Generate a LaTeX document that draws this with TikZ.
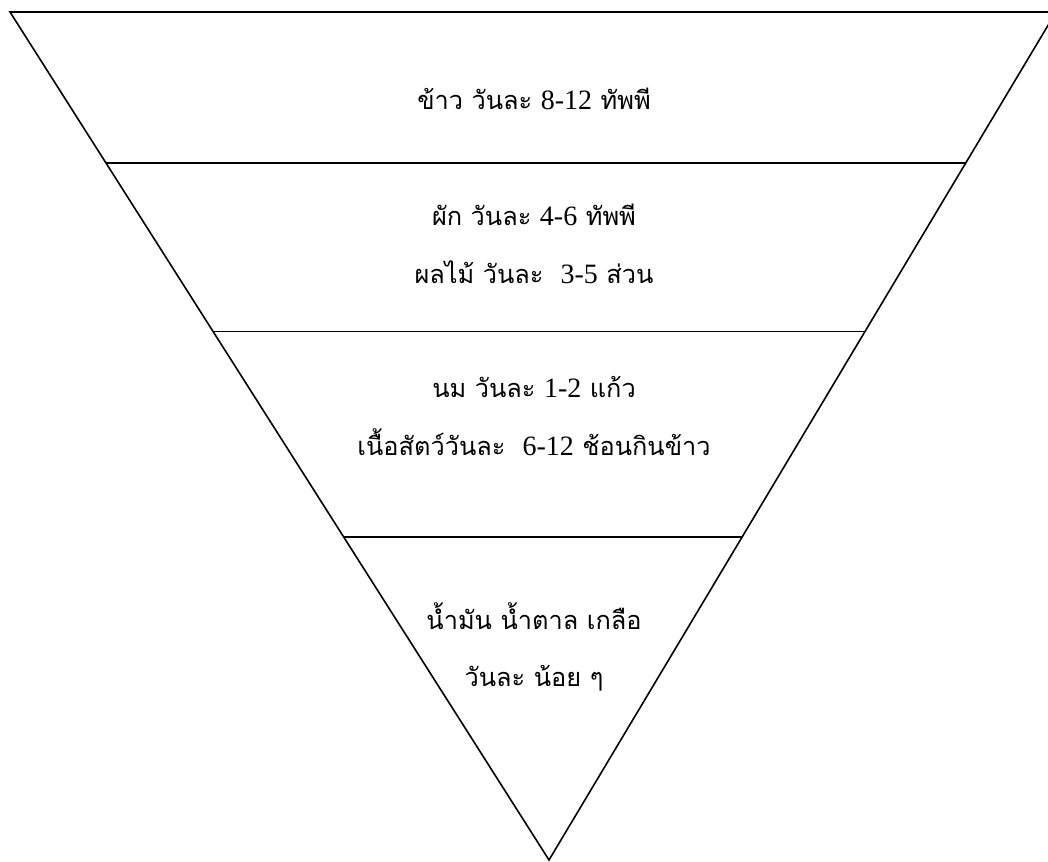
\documentclass[tikz,border=0pt]{standalone}
\usepackage{fontspec}
\newfontfamily\thaifont[Script=Thai]{Loma}
\newfontfamily\numfont{Liberation Serif}
\newcommand{\num}[1]{{\numfont\fontsize{21}{43}\selectfont #1}}
\usetikzlibrary{positioning, calc}

\tikzset{
  tier/.style={draw=black, line width=1.2pt},
  tiertext/.style={align=center, inner sep=0pt,
    font={\thaifont\fontsize{19}{43}\selectfont}}
}

\begin{document}
\begin{tikzpicture}[x=0.75pt, y=-0.75pt]
    \clip (0,0) rectangle (1048,862);
    % corners of the pyramid
    \coordinate (tl) at (10,12);
    \coordinate (tr) at (1056,12);
    \coordinate (apex) at (549,860);
    \draw[tier, line join=miter] (tl) -- (tr) -- (apex) -- cycle;
    % dividing lines
    \coordinate (l1) at ($(tl)!0.178!(apex)$);
    \coordinate (r1) at ($(tr)!0.178!(apex)$);
    \coordinate (l2) at ($(tl)!0.377!(apex)$);
    \coordinate (r2) at ($(tr)!0.377!(apex)$);
    \coordinate (l3) at ($(tl)!0.619!(apex)$);
    \coordinate (r3) at ($(tr)!0.619!(apex)$);
    \draw[tier] (l1) -- (r1);
    \draw[tier] (l2) -- (r2);
    \draw[tier] (l3) -- (r3);
    % food groups
    \node[tiertext] (rice) at (534,99) {ข้าว วันละ \num{8-12} ทัพพี};
    \node[tiertext] (vegfruit) at (534,244) {ผัก วันละ \num{4-6} ทัพพี\\ผลไม้ วันละ~ \num{3-5} ส่วน};
    \node[tiertext] (milkmeat) at (534,416) {นม วันละ \num{1-2} แก้ว\\เนื้อสัตว์วันละ~ \num{6-12} ช้อนกินข้าว};
    \node[tiertext] (fatsalt) at (534,647) {น้ำมัน น้ำตาล เกลือ\\วันละ น้อย ๆ};
\end{tikzpicture}
\end{document}
